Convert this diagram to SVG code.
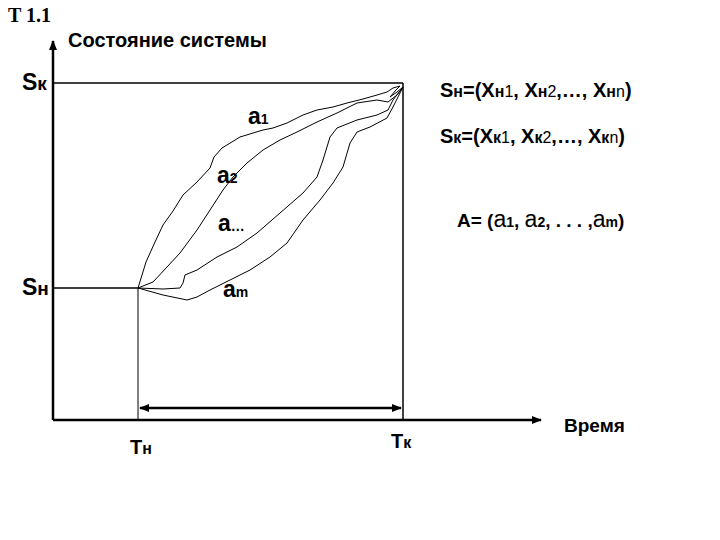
<svg xmlns="http://www.w3.org/2000/svg" width="720" height="540" viewBox="0 0 720 540">
<defs>
<marker id="ah" viewBox="0 0 10 10" refX="9" refY="5" markerWidth="4" markerHeight="4" orient="auto-start-reverse" markerUnits="strokeWidth">
<path d="M0,1 L10,5 L0,9 Z" fill="#000"/>
</marker>
<style>
.t{font-family:"Liberation Sans",Arial,sans-serif;font-weight:bold;fill:#000}
.s{font-family:"Liberation Serif","Times New Roman",serif;font-weight:bold;fill:#000}
.c{fill:none;stroke:#000;stroke-width:1;stroke-linejoin:round}
.ax{stroke:#000;stroke-width:2.5;fill:none}
.ln{stroke:#000;stroke-width:1.5;fill:none}
.th{stroke:#000;stroke-width:1;fill:none}
</style>
</defs>
<rect width="720" height="540" fill="#fff"/>
<g id="title">
<text class="s" x="8" y="22" font-size="20">T 1.1</text>
<text class="t" x="68" y="47" font-size="20">Состояние системы</text>
</g>
<g id="connectors">
<line class="ax" x1="53" y1="420" x2="53" y2="41" marker-end="url(#ah)"/>
<line class="ax" x1="53" y1="420" x2="541" y2="420" marker-end="url(#ah)"/>
<line class="ln" x1="53" y1="83" x2="403" y2="83"/>
<line class="ln" x1="53" y1="288" x2="138" y2="288"/>
<line class="th" x1="138" y1="288" x2="138" y2="420"/>
<line class="ln" x1="403" y1="83" x2="403" y2="420"/>
<line class="ax" x1="140" y1="408" x2="401" y2="408" marker-start="url(#ah)" marker-end="url(#ah)"/>
</g>
<g id="curves">
<polyline class="c" points="138,288 146,262 155,242 163,225 173,211 183,195 197,182 210,168 214,157 222,148 240,137 263,130 273,128 287,123 303,115 317,110 333,107 347,103 363,99 377,95 387,92 393,88 400,86 396,90 390,97 397,92 403,87"/>
<polyline class="c" points="138,288 153,282 167,267 180,253 197,230 210,210 223,190 233,177 247,163 263,150 280,140 297,132 317,122 337,113 357,103 377,100 388,102 397,95 403,87"/>
<polyline class="c" points="138,288 163,289 180,288 183,283 185,275 197,270 217,257 237,247 257,233 280,213 303,193 317,177 323,160 330,137 337,128 357,120 377,115 388,110 393,100 403,87"/>
<polyline class="c" points="138,288 163,295 187,300 197,297 210,290 230,280 250,270 270,257 287,243 303,220 320,200 333,183 343,167 350,143 357,132 370,127 387,118 393,107 403,87"/>
</g>
<g id="labels">
<text class="t" x="22" y="90" font-size="23">S<tspan font-size="19">к</tspan></text>
<text class="t" x="22" y="295" font-size="23">S<tspan font-size="19">н</tspan></text>
<text class="t" x="130" y="454" font-size="20">T<tspan font-size="16">н</tspan></text>
<text class="t" x="391" y="448" font-size="20">T<tspan font-size="16">к</tspan></text>
<text class="t" x="564" y="432" font-size="19">Время</text>
<text class="t" x="440" y="97" font-size="20">S<tspan font-size="16">н</tspan>=(X<tspan font-size="16">н</tspan><tspan font-size="16" font-weight="normal">1</tspan>, X<tspan font-size="16">н</tspan><tspan font-size="16" font-weight="normal">2</tspan>,…, X<tspan font-size="16">н</tspan><tspan font-size="16" font-weight="normal">n</tspan>)</text>
<text class="t" x="440" y="143" font-size="20">S<tspan font-size="16">к</tspan>=(X<tspan font-size="16">к</tspan><tspan font-size="16" font-weight="normal">1</tspan>, X<tspan font-size="16">к</tspan><tspan font-size="16" font-weight="normal">2</tspan>,…, X<tspan font-size="16">к</tspan><tspan font-size="16" font-weight="normal">n</tspan>)</text>
<text class="t" x="457" y="227" font-size="19">A= (<tspan font-size="23" font-weight="normal">a</tspan><tspan font-size="14">1</tspan>, <tspan font-size="23" font-weight="normal">a</tspan><tspan font-size="14">2</tspan>, . . . ,<tspan font-size="23" font-weight="normal">a</tspan><tspan font-size="14">m</tspan>)</text>
<text class="t" x="248" y="124" font-size="23">a<tspan font-size="14">1</tspan></text>
<text class="t" x="217" y="183" font-size="23">a<tspan font-size="14">2</tspan></text>
<text class="t" x="218" y="231" font-size="23">a<tspan font-size="14">…</tspan></text>
<text class="t" x="223" y="297" font-size="23">a<tspan font-size="14">m</tspan></text>
</g>
</svg>
